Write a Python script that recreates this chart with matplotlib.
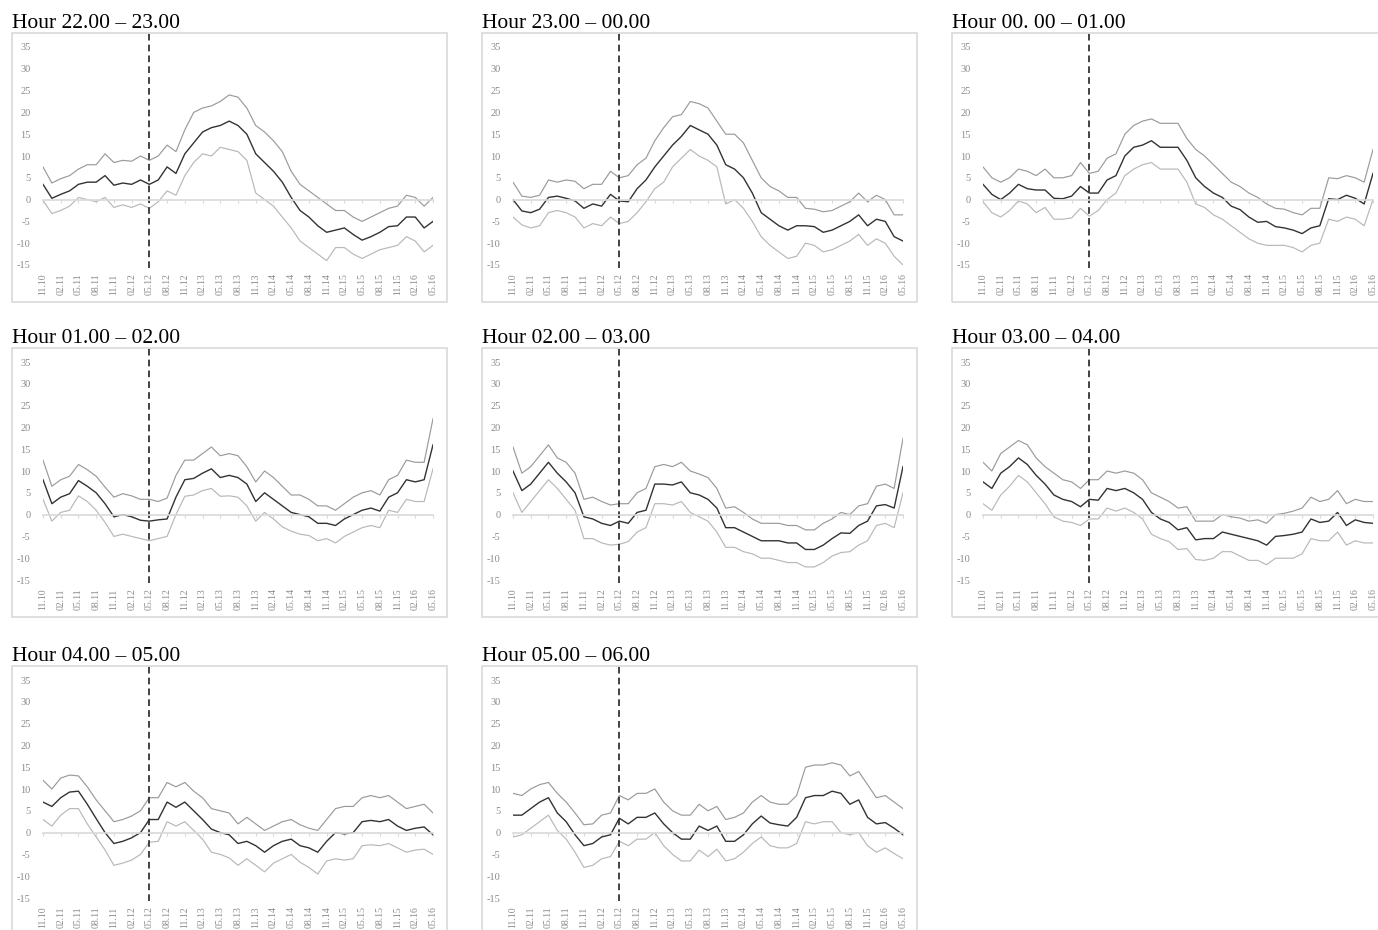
import matplotlib.pyplot as plt
from matplotlib.patches import Rectangle
import numpy as np

plt.rcParams['font.family'] = ['Liberation Serif', 'DejaVu Serif']
plt.rcParams['axes.unicode_minus'] = False

# sampling grid: every 1.5 months from Nov 2010 to May 2016
months = np.arange(45) * 1.5
tick_months = np.arange(23) * 3
tick_labels = ['11.10', '02.11', '05.11', '08.11', '11.11', '02.12', '05.12', '08.12',
               '11.12', '02.13', '05.13', '08.13', '11.13', '02.14', '05.14', '08.14',
               '11.14', '02.15', '05.15', '08.15', '11.15', '02.16', '05.16']
break_month = 18  # 05.12

titles = ['Hour 22.00 \u2013 23.00', 'Hour 23.00 \u2013 00.00', 'Hour 00. 00 \u2013 01.00',
          'Hour 01.00 \u2013 02.00', 'Hour 02.00 \u2013 03.00', 'Hour 03.00 \u2013 04.00',
          'Hour 04.00 \u2013 05.00', 'Hour 05.00 \u2013 06.00']

h22_mid = [3.5, 0.3, 1.2, 2.0, 3.5, 4.0, 4.0, 5.5, 3.3, 3.8, 3.5, 4.5, 3.5, 4.5, 7.5, 6.0,
           10.5, 13.0, 15.5, 16.5, 17.0, 18.0, 17.0, 15.0, 10.5, 8.5, 6.5, 4.0, 0.5, -2.5,
           -4.0, -6.0, -7.5, -7.0, -6.5, -8.0, -9.3, -8.5, -7.5, -6.2, -6.0, -4.0, -4.0, -6.5, -5.0]
h22_up = [7.5, 3.8, 4.8, 5.5, 7.0, 8.0, 8.0, 10.5, 8.5, 9.0, 8.8, 10.0, 9.0, 10.0, 12.5, 11.0,
          16.0, 20.0, 21.0, 21.5, 22.5, 24.0, 23.5, 21.0, 17.0, 15.5, 13.5, 11.0, 6.5, 3.5,
          2.0, 0.5, -1.0, -2.5, -2.5, -4.0, -5.0, -4.0, -3.0, -2.0, -1.5, 1.0, 0.5, -1.5, 0.5]
h22_lo = [-0.2, -3.2, -2.5, -1.5, 0.5, 0.0, -0.5, 0.5, -1.8, -1.2, -1.8, -1.0, -2.0, -0.5, 2.0, 1.0,
          5.5, 8.5, 10.5, 10.0, 12.0, 11.5, 11.0, 9.0, 1.5, 0.0, -1.5, -4.0, -6.5, -9.5,
          -11.0, -12.5, -14.0, -11.0, -11.0, -12.5, -13.5, -12.5, -11.5, -11.0, -10.5, -8.5, -9.5, -12.0, -10.5]

h23_mid = [0.0, -2.6, -3.0, -2.2, 0.5, 0.8, 0.3, -0.3, -2.0, -1.0, -1.5, 1.2, -0.3, -0.5, 2.5, 4.5,
           7.5, 10.0, 12.5, 14.5, 17.0, 16.0, 15.0, 12.5, 8.0, 7.0, 5.0, 1.5, -3.0, -4.5,
           -6.0, -7.0, -6.0, -6.0, -6.2, -7.5, -7.0, -6.0, -5.0, -3.5, -6.0, -4.5, -5.0, -8.5, -9.5]
h23_up = [4.0, 0.8, 0.5, 1.0, 4.5, 4.0, 4.5, 4.2, 2.5, 3.5, 3.5, 6.5, 5.0, 5.5, 8.0, 9.5,
          13.5, 16.5, 19.0, 19.5, 22.5, 22.0, 21.0, 18.0, 15.0, 15.0, 13.0, 9.0, 5.0, 3.0,
          2.0, 0.5, 0.5, -2.0, -2.2, -2.8, -2.5, -1.5, -0.5, 1.5, -0.5, 1.0, 0.0, -3.5, -3.5]
h23_lo = [-4.0, -5.8, -6.5, -6.0, -3.0, -2.5, -3.0, -4.0, -6.5, -5.5, -6.0, -4.0, -5.5, -5.0, -3.0, -0.5,
          2.5, 4.0, 7.5, 9.5, 11.5, 10.0, 9.0, 7.5, -1.0, 0.0, -2.0, -5.0, -8.5, -10.5,
          -12.0, -13.5, -13.0, -10.0, -10.5, -12.0, -11.5, -10.5, -9.5, -8.0, -10.5, -9.0, -10.0, -13.0, -15.0]

h00_mid = [3.5, 1.2, 0.0, 1.5, 3.5, 2.5, 2.2, 2.2, 0.3, 0.2, 0.8, 3.0, 1.5, 1.5, 4.5, 5.5,
           10.0, 12.0, 12.5, 13.5, 12.0, 12.0, 12.0, 9.0, 5.0, 3.0, 1.5, 0.5, -1.5, -2.3,
           -4.0, -5.2, -5.0, -6.2, -6.5, -7.0, -7.8, -6.5, -6.0, 0.2, 0.0, 1.0, 0.3, -1.0, 6.0]
h00_up = [7.5, 5.0, 4.0, 5.0, 7.0, 6.5, 5.5, 7.0, 5.0, 5.0, 5.5, 8.5, 6.0, 6.5, 9.5, 10.5,
          15.0, 17.0, 18.0, 18.5, 17.5, 17.5, 17.5, 14.0, 11.5, 10.0, 8.0, 6.0, 4.0, 3.0,
          1.5, 0.5, -1.0, -2.0, -2.2, -3.0, -3.5, -2.0, -2.0, 5.0, 4.8, 5.5, 5.0, 4.0, 11.5]
h00_lo = [-0.5, -3.0, -4.0, -2.5, -0.3, -1.0, -3.0, -1.8, -4.5, -4.5, -4.2, -2.0, -3.8, -2.5, 0.0, 1.5,
          5.5, 7.0, 8.0, 8.5, 7.0, 7.0, 7.0, 4.0, -1.0, -1.8, -3.5, -4.5, -6.0, -7.5,
          -9.0, -10.0, -10.5, -10.5, -10.5, -11.0, -12.0, -10.5, -10.0, -4.5, -5.0, -4.0, -4.5, -6.0, 0.0]

h01_mid = [8.0, 2.5, 4.0, 4.8, 7.8, 6.5, 5.0, 2.5, -0.5, 0.0, -0.5, -1.3, -1.5, -1.2, -1.0, 4.0,
           8.0, 8.3, 9.5, 10.5, 8.5, 9.0, 8.5, 7.0, 3.0, 5.0, 3.5, 2.0, 0.5, 0.0,
           -0.5, -2.0, -2.0, -2.5, -1.0, 0.0, 1.0, 1.5, 0.8, 4.0, 5.0, 8.0, 7.5, 8.0, 16.0]
h01_up = [12.5, 6.5, 8.0, 8.8, 11.5, 10.3, 8.8, 6.3, 4.0, 4.8, 4.3, 3.5, 3.5, 3.0, 3.8, 9.0,
          12.5, 12.5, 14.0, 15.5, 13.5, 14.0, 13.5, 11.0, 7.5, 10.0, 8.5, 6.5, 4.5, 4.5,
          3.5, 2.0, 2.0, 1.0, 2.5, 4.0, 5.0, 5.5, 4.5, 8.0, 9.0, 12.5, 12.0, 12.0, 22.0]
h01_lo = [3.5, -1.5, 0.5, 1.0, 4.3, 3.0, 1.0, -1.8, -5.0, -4.5, -5.0, -5.5, -6.0, -5.5, -5.0, 0.0,
          4.2, 4.5, 5.5, 6.0, 4.2, 4.3, 4.0, 2.0, -1.5, 0.5, -1.0, -2.8, -3.8, -4.5,
          -4.8, -6.0, -5.5, -6.5, -5.0, -4.0, -3.0, -2.5, -3.0, 1.0, 0.5, 3.5, 3.0, 3.0, 10.5]

h02_mid = [10.0, 5.5, 7.0, 9.5, 12.0, 9.5, 7.5, 5.0, -0.5, -1.0, -2.0, -2.5, -1.5, -2.0, 0.5, 1.0,
           7.0, 7.0, 6.8, 7.5, 5.0, 4.5, 3.5, 1.5, -3.0, -3.0, -4.0, -5.0, -6.0, -6.0,
           -6.0, -6.5, -6.5, -8.0, -8.0, -7.0, -5.5, -4.2, -4.3, -2.5, -1.5, 2.0, 2.3, 1.5, 11.0]
h02_up = [15.5, 9.5, 11.0, 13.5, 16.0, 13.0, 12.0, 9.5, 3.5, 4.0, 3.0, 2.2, 2.5, 2.5, 5.0, 6.0,
          11.0, 11.5, 11.0, 12.0, 10.0, 9.3, 8.5, 6.0, 1.5, 1.8, 0.5, -1.0, -2.0, -2.0,
          -2.0, -2.5, -2.5, -3.5, -3.5, -2.0, -1.0, 0.5, 0.0, 2.0, 2.5, 6.5, 7.0, 6.0, 17.5]
h02_lo = [5.0, 0.5, 3.0, 5.5, 8.0, 6.0, 3.5, 1.0, -5.5, -5.5, -6.5, -7.0, -6.8, -6.2, -4.0, -3.0,
          2.5, 2.5, 2.2, 3.0, 0.5, -0.5, -1.5, -4.0, -7.5, -7.5, -8.5, -9.0, -10.0, -10.0,
          -10.5, -11.0, -11.0, -12.0, -12.0, -11.0, -9.5, -8.7, -8.5, -7.0, -6.0, -2.5, -2.0, -3.0, 5.0]

h03_mid = [7.5, 6.0, 9.5, 11.0, 13.0, 11.5, 9.0, 7.0, 4.5, 3.5, 3.0, 1.8, 3.5, 3.3, 6.0, 5.5,
           6.0, 5.0, 3.5, 0.5, -1.0, -1.8, -3.5, -3.0, -5.8, -5.5, -5.5, -4.0, -4.5, -5.0,
           -5.5, -6.0, -7.0, -5.0, -4.8, -4.5, -4.0, -1.0, -1.8, -1.5, 0.5, -2.5, -1.2, -1.8, -2.0]
h03_up = [12.0, 10.0, 14.0, 15.5, 17.0, 16.0, 13.0, 11.0, 9.5, 8.0, 7.5, 6.0, 8.0, 8.0, 10.0, 9.5,
          10.0, 9.5, 8.0, 5.0, 4.0, 3.0, 1.5, 1.8, -1.5, -1.5, -1.5, 0.0, -0.5, -0.8,
          -1.5, -1.2, -2.0, 0.0, 0.3, 0.8, 1.5, 4.0, 3.0, 3.5, 5.5, 2.5, 3.5, 3.0, 3.0]
h03_lo = [2.5, 1.0, 4.5, 6.5, 9.0, 7.5, 5.0, 2.5, -0.5, -1.5, -1.8, -2.5, -1.0, -1.0, 1.5, 0.8,
          1.5, 0.5, -1.0, -4.5, -5.5, -6.2, -8.0, -7.8, -10.3, -10.5, -10.0, -8.5, -8.5, -9.5,
          -10.5, -10.5, -11.5, -10.0, -10.0, -10.0, -9.0, -5.5, -6.0, -6.0, -4.0, -7.0, -6.0, -6.5, -6.5]

h04_mid = [7.0, 6.0, 8.0, 9.3, 9.5, 6.5, 3.2, 0.0, -2.5, -2.0, -1.2, 0.0, 3.0, 3.0, 7.0, 5.8,
           7.0, 5.0, 3.0, 0.8, 0.0, -0.5, -2.5, -2.0, -3.0, -4.5, -3.0, -2.0, -1.5, -3.0,
           -3.5, -4.5, -2.0, 0.0, -0.3, 0.0, 2.5, 2.8, 2.5, 3.0, 1.5, 0.5, 1.0, 1.3, -0.5]
h04_up = [12.0, 10.0, 12.5, 13.2, 13.0, 10.5, 7.5, 5.0, 2.5, 3.0, 3.8, 5.0, 8.0, 8.0, 11.5, 10.5,
          11.5, 9.5, 8.0, 5.5, 5.0, 4.5, 2.0, 3.5, 2.0, 0.5, 1.5, 2.5, 3.0, 1.8,
          1.0, 0.5, 3.0, 5.5, 6.0, 6.0, 8.0, 8.5, 8.0, 8.5, 7.0, 5.5, 6.0, 6.5, 4.5]
h04_lo = [3.0, 1.5, 4.0, 5.5, 5.5, 2.0, -1.0, -4.0, -7.5, -7.0, -6.3, -5.0, -2.2, -2.0, 2.5, 1.5,
          2.5, 0.5, -1.5, -4.5, -5.0, -5.8, -7.5, -6.0, -7.5, -9.0, -7.0, -6.0, -5.0, -6.8,
          -8.0, -9.5, -6.5, -6.0, -6.3, -6.0, -3.0, -2.8, -3.0, -2.5, -3.5, -4.5, -4.0, -3.8, -5.0]

h05_mid = [4.0, 4.0, 5.5, 7.0, 8.0, 4.5, 2.5, -0.5, -3.0, -2.5, -1.0, -0.5, 3.3, 2.0, 3.5, 3.5,
           4.5, 2.0, 0.0, -1.5, -1.5, 1.5, 0.5, 1.5, -2.0, -2.0, -0.5, 2.0, 3.8, 2.2,
           1.8, 1.5, 3.5, 8.0, 8.5, 8.5, 9.5, 9.0, 6.5, 7.5, 3.5, 2.0, 2.3, 1.0, -0.5]
h05_up = [9.0, 8.5, 10.0, 11.0, 11.5, 9.0, 7.0, 4.5, 1.8, 2.0, 4.0, 4.5, 8.5, 7.5, 9.0, 9.0,
          10.0, 7.0, 5.0, 4.0, 4.0, 6.5, 5.0, 6.0, 3.0, 3.5, 4.5, 7.0, 8.5, 7.0,
          6.5, 6.5, 8.5, 15.0, 15.5, 15.5, 16.0, 15.5, 13.0, 14.0, 11.0, 8.0, 8.5, 7.0, 5.5]
h05_lo = [-1.0, -0.5, 1.0, 2.5, 4.0, 0.5, -1.5, -4.5, -8.0, -7.5, -6.0, -5.5, -2.0, -3.0, -1.5, -1.5,
          0.0, -3.0, -5.0, -6.5, -6.5, -4.0, -5.5, -3.8, -6.5, -6.0, -4.5, -2.5, -1.0, -3.0,
          -3.5, -3.5, -2.5, 2.5, 2.0, 2.5, 2.5, 0.0, -0.5, 0.0, -3.0, -4.5, -3.5, -4.8, -6.0]

series = [(h22_mid, h22_up, h22_lo), (h23_mid, h23_up, h23_lo), (h00_mid, h00_up, h00_lo),
          (h01_mid, h01_up, h01_lo), (h02_mid, h02_up, h02_lo), (h03_mid, h03_up, h03_lo),
          (h04_mid, h04_up, h04_lo), (h05_mid, h05_up, h05_lo)]

W, H = 1378, 930
fig = plt.figure(figsize=(W / 100, H / 100), dpi=100)

col_x = [43, 513, 983]     # pixel x of the first month
row_y = [47, 362, 680]     # pixel y of the top tick (35)
plot_w, plot_h = 390, 218
grey_txt = '#8a8a8a'
frame_c = '#d9d9d9'

for i, (title, (mid, up, lo)) in enumerate(zip(titles, series)):
    r, c = divmod(i, 3)
    x0, y0 = col_x[c], row_y[r]
    ax = fig.add_axes([x0 / W, 1 - (y0 + plot_h) / H, plot_w / W, plot_h / H])
    ax.set_xlim(0, 66)
    ax.set_ylim(-15, 35)
    ax.patch.set_alpha(0)

    # outer frame and title
    bl, bt = x0 - 31, y0 - 14
    bw, bh = 435, plot_h + 51
    fig.add_artist(Rectangle((bl / W, 1 - (bt + bh) / H), bw / W, bh / H,
                             transform=fig.transFigure, fill=False, ec=frame_c, lw=1.2))
    fig.text(bl / W, 1 - (bt - 5) / H, title, fontsize=15.5, va='baseline', ha='left')

    for s in ['top', 'right', 'left']:
        ax.spines[s].set_visible(False)
    ax.spines['bottom'].set_position(('data', 0))
    ax.spines['bottom'].set_color(frame_c)
    ax.spines['bottom'].set_linewidth(1.2)
    ax.set_xticks(tick_months)
    ax.tick_params(axis='x', length=2.5, width=0.8, color=frame_c, labelbottom=False)

    sec = ax.secondary_xaxis('bottom')
    sec.set_xticks(tick_months, labels=tick_labels, rotation=90)
    sec.tick_params(length=0, pad=6, labelsize=7, labelcolor=grey_txt)
    sec.spines['bottom'].set_visible(False)

    ax.set_yticks(np.arange(-15, 40, 5))
    ax.tick_params(axis='y', length=0, pad=9, labelsize=7.5, labelcolor=grey_txt)

    ax.plot(months, up, color='#9a9a9a', lw=0.85)
    ax.plot(months, lo, color='#b8b8b8', lw=0.85)
    ax.plot(months, mid, color='#333333', lw=1.0)
    ax.axvline(break_month, ymin=-3 / plot_h, ymax=1 + 14 / plot_h, clip_on=False,
               color='#222222', lw=1.2, ls=(0, (4, 2.5)))

fig.savefig('out.png', dpi=100)
